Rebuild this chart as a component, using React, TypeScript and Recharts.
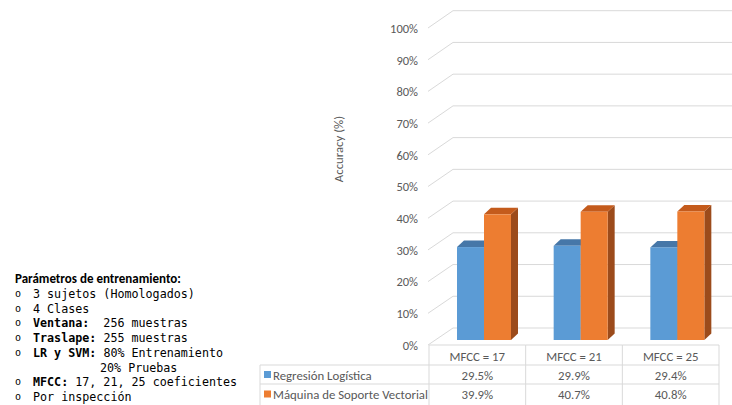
import React from 'react';
import { BarChart, Bar, XAxis, YAxis, CartesianGrid } from 'recharts';

// ---------- data ----------
const categories = ['MFCC = 17', 'MFCC = 21', 'MFCC = 25'];
const regresionLogistica = [29.5, 29.9, 29.4];
const maquinaSoporte = [39.9, 40.7, 40.8];
const seriesNames = ['Regresión Logística', 'Máquina de Soporte Vectorial'];
const yTicks = [0, 10, 20, 30, 40, 50, 60, 70, 80, 90, 100];
const yAxisTitle = 'Accuracy (%)';
const paramTitle = 'Parámetros de entrenamiento:';
const paramLines: { bold?: string; text: string; bullet: boolean; indent?: number }[] = [
  { text: '3 sujetos (Homologados)', bullet: true },
  { text: '4 Clases', bullet: true },
  { bold: 'Ventana:', text: '  256 muestras', bullet: true },
  { bold: 'Traslape:', text: ' 255 muestras', bullet: true },
  { bold: 'LR y SVM:', text: ' 80% Entrenamiento', bullet: true },
  { text: '20% Pruebas', bullet: false, indent: 85 },
  { bold: 'MFCC:', text: ' 17, 21, 25 coeficientes', bullet: true },
  { text: 'Por inspección', bullet: true },
];

const data = categories.map((c, i) => ({ name: c, lr: regresionLogistica[i], svm: maquinaSoporte[i] }));

// ---------- layout / style ----------
const W = 732;
const H = 405;
const Y_AXIS_W = 100;
const MARGIN = { top: 25, right: 13, bottom: 0, left: 329 };
const X_AXIS_H = 65;
const PLOT_LEFT = MARGIN.left + Y_AXIS_W;
const PLOT_RIGHT = W - MARGIN.right;
const PLOT_TOP = MARGIN.top;
const PLOT_H = H - MARGIN.top - MARGIN.bottom - X_AXIS_H;
const BAND = (PLOT_RIGHT - PLOT_LEFT) / categories.length;
const GRID = '#D9D9D9';
const TEXT = '#595959';
const SANS = 'Carlito, Lato, "Open Sans", sans-serif';
const MONO = '"DejaVu Sans Mono", "Liberation Mono", monospace';
const BLUE = { front: '#5B9BD5', top: '#4677A8', side: '#3D6A96' };
const ORANGE = { front: '#ED7D31', top: '#C45B1C', side: '#9C4B1B' };
const DEPTH_X = 7;
const DEPTH_Y = 6.5;
const SHIFT_X = 7;
const TABLE_FS = 12.8;
const TICK_FS = 12.5;

const fmt = (v: number) => `${v.toFixed(1)}%`;

const make3DShape = (c: { front: string; top: string; side: string }) => (props: any) => {
  const { x, y, width, height } = props;
  if (width == null || height == null) return <g />;
  const x0 = x + SHIFT_X;
  const x1 = x0 + width;
  const yb = y + height;
  return (
    <g>
      <polygon
        points={`${x1},${y} ${x1 + DEPTH_X},${y - DEPTH_Y} ${x1 + DEPTH_X},${yb - DEPTH_Y} ${x1},${yb}`}
        fill={c.side}
      />
      <polygon
        points={`${x0},${y} ${x1},${y} ${x1 + DEPTH_X},${y - DEPTH_Y} ${x0 + DEPTH_X},${y - DEPTH_Y}`}
        fill={c.top}
      />
      <rect x={x0} y={y} width={width} height={height} fill={c.front} />
    </g>
  );
};

const GridLine = (props: any) => {
  const { x1, y1, index } = props;
  const t = (y1 - PLOT_TOP) / PLOT_H;
  const f = 3 + 2 * t;
  const b = -14.3 + 2.3 * t;
  return (
    <polyline
      key={`g-${index}-${y1}`}
      points={`${x1 - 1},${y1 + f} ${x1 + 24},${y1 + b} ${W},${y1 + b}`}
      fill="none"
      stroke={GRID}
      strokeWidth={1}
    />
  );
};

const YTick = (props: any) => {
  const { x, y, payload } = props;
  const t = (y - PLOT_TOP) / PLOT_H;
  return (
    <text x={x} y={y + 8 + 1.5 * t} textAnchor="end" fill={TEXT} fontSize={TICK_FS} fontFamily={SANS}>
      {`${payload.value}%`}
    </text>
  );
};

const TableTick = (props: any) => {
  const { x, y, payload } = props;
  let i = props.index;
  if (i == null) i = categories.indexOf(payload.value);
  const left = x - BAND / 2;
  const right = x + BAND / 2;
  const legendLeft = left - 169;
  const rows = [regresionLogistica, maquinaSoporte];
  const colors = [BLUE.front, ORANGE.front];
  return (
    <g>
      <line x1={left} x2={right} y1={y + 5} y2={y + 5} stroke={GRID} />
      <line x1={left} x2={right} y1={y + 25} y2={y + 25} stroke={GRID} />
      <line x1={left} x2={right} y1={y + 44} y2={y + 44} stroke={GRID} />
      <line x1={right} x2={right} y1={y + 5} y2={H} stroke={GRID} />
      {i === 0 && (
        <g>
          <line x1={left} x2={left} y1={y + 5} y2={H} stroke={GRID} />
          <line x1={legendLeft} x2={left} y1={y + 25} y2={y + 25} stroke={GRID} />
          <line x1={legendLeft} x2={left} y1={y + 44} y2={y + 44} stroke={GRID} />
          <line x1={legendLeft} x2={legendLeft} y1={y + 25} y2={H} stroke={GRID} />
          {seriesNames.map((n, k) => (
            <g key={n}>
              <rect x={legendLeft + 4} y={y + 31 + k * 19.5} width={7} height={7} fill={colors[k]} />
              <text x={legendLeft + 13} y={y + 39.5 + k * 19.5} fill={TEXT} fontSize={TABLE_FS} fontFamily={SANS}>
                {n}
              </text>
            </g>
          ))}
        </g>
      )}
      <text x={x} y={y + 21} textAnchor="middle" fill={TEXT} fontSize={TABLE_FS} fontFamily={SANS}>
        {payload.value}
      </text>
      {rows.map((r, k) => (
        <text key={k} x={x} y={y + 39.5 + k * 19.5} textAnchor="middle" fill={TEXT} fontSize={TABLE_FS} fontFamily={SANS}>
          {fmt(r[i])}
        </text>
      ))}
    </g>
  );
};

const AxisTitle = (props: any) => {
  const vb = props.viewBox || { x: MARGIN.left, y: PLOT_TOP, width: Y_AXIS_W, height: PLOT_H };
  const cx = vb.x + 9;
  const cy = vb.y + 124;
  return (
    <text
      x={cx}
      y={cy}
      transform={`rotate(-90 ${cx} ${cy})`}
      textAnchor="middle"
      dominantBaseline="central"
      fill={TEXT}
      fontSize={12.8}
      fontFamily={SANS}
    >
      {yAxisTitle}
    </text>
  );
};

export default function App() {
  return (
    <div style={{ position: 'absolute', left: 0, top: 0, width: W, height: H, overflow: 'hidden', background: '#fff' }}>
      <BarChart width={W} height={H} data={data} margin={MARGIN} barGap={0} barSize={27}>
        <CartesianGrid vertical={false} horizontal={GridLine as any} />
        <XAxis
          dataKey="name"
          height={X_AXIS_H}
          axisLine={false}
          tickLine={false}
          tickSize={0}
          tickMargin={0}
          interval={0}
          tick={TableTick}
        />
        <YAxis
          width={Y_AXIS_W}
          domain={[0, 100]}
          ticks={yTicks}
          axisLine={false}
          tickLine={false}
          tickSize={0}
          tickMargin={11}
          tick={YTick}
          label={<AxisTitle />}
        />
        <Bar dataKey="lr" name={seriesNames[0]} fill={BLUE.front} isAnimationActive={false} shape={make3DShape(BLUE)} />
        <Bar dataKey="svm" name={seriesNames[1]} fill={ORANGE.front} isAnimationActive={false} shape={make3DShape(ORANGE)} />
      </BarChart>
      <div
        style={{
          position: 'absolute',
          left: 15,
          top: 272,
          fontFamily: MONO,
          fontSize: 11.7,
          lineHeight: '14.75px',
          color: '#000',
          whiteSpace: 'pre',
        }}
      >
        <div style={{ fontFamily: SANS, fontWeight: 'bold', fontSize: 13 }}>{paramTitle}</div>
        {paramLines.map((l, k) => (
          <div key={k} style={{ position: 'relative', paddingLeft: l.bullet ? 18 : l.indent }}>
            {l.bullet && <span style={{ position: 'absolute', left: 0, top: 0, fontSize: 10 }}>o</span>}
            {l.bold && <b>{l.bold}</b>}
            {l.text}
          </div>
        ))}
      </div>
    </div>
  );
}
